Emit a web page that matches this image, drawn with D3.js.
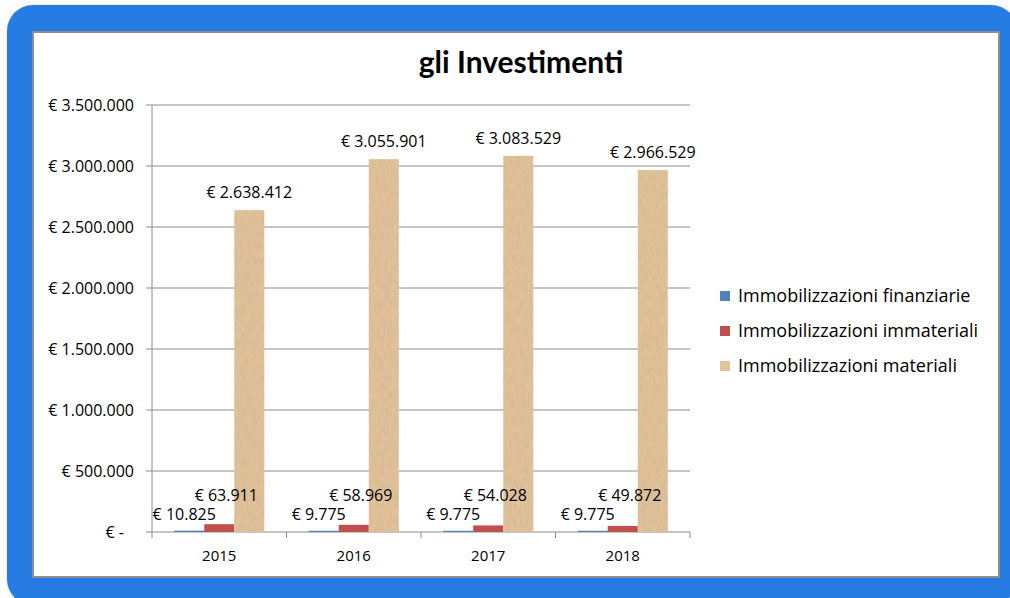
<!DOCTYPE html>
<html>
<head>
<meta charset="utf-8">
<script src="https://cdn.jsdelivr.net/npm/d3@7"></script>
<style>
  body { margin: 0; background: #fff; }
  svg text { font-family: "Open Sans", sans-serif; fill: #000; }
</style>
</head>
<body>
<div id="chart"></div>
<script>
// Chart data
const years = ["2015", "2016", "2017", "2018"];
const seriesNames = ["Immobilizzazioni finanziarie", "Immobilizzazioni immateriali", "Immobilizzazioni materiali"];
const finanziarie = [10825, 9775, 9775, 9775];
const immateriali = [63911, 58969, 54028, 49872];
const materiali = [2638412, 3055901, 3083529, 2966529];
const yTicks = [0, 500000, 1000000, 1500000, 2000000, 2500000, 3000000, 3500000];
const colors = ["#4F81BD", "#C0504D", "#E3C399"];

const width = 1010;
const height = 598;

const svg = d3.select("#chart")
    .append("svg")
    .attr("width", width)
    .attr("height", height);

// texture for the tan bars
const defs = svg.append("defs");
const paper = defs.append("filter").attr("id", "paper")
    .attr("x", 0).attr("y", 0).attr("width", 1).attr("height", 1);
paper.append("feTurbulence")
    .attr("type", "fractalNoise")
    .attr("baseFrequency", "0.5 0.12")
    .attr("numOctaves", 3)
    .attr("seed", 4)
    .attr("result", "noise");
paper.append("feColorMatrix")
    .attr("in", "noise")
    .attr("type", "matrix")
    .attr("values", "0 0 0 0 0.55  0 0 0 0 0.42  0 0 0 0 0.28  0 0 0 0.7 -0.15")
    .attr("result", "tint");
paper.append("feComposite")
    .attr("in", "tint")
    .attr("in2", "SourceGraphic")
    .attr("operator", "atop");

const shadow = defs.append("filter").attr("id", "shadow");
shadow.append("feDropShadow")
    .attr("dx", 1).attr("dy", 1).attr("stdDeviation", 1.5)
    .attr("flood-color", "#000").attr("flood-opacity", 0.35);

// blue frame
svg.append("rect")
    .attr("x", 7).attr("y", 5)
    .attr("width", 1010).attr("height", 600)
    .attr("rx", 26)
    .attr("fill", "#287CE2")
    .attr("filter", "url(#shadow)");

// white panel
svg.append("rect")
    .attr("x", 33).attr("y", 32)
    .attr("width", 966).attr("height", 545)
    .attr("fill", "#fff")
    .attr("stroke", "#8E8E8E")
    .attr("stroke-width", 2);

// title
svg.append("text")
    .attr("x", 521).attr("y", 73)
    .attr("text-anchor", "middle")
    .style("font-family", "Lato, sans-serif")
    .style("font-size", "30px")
    .style("font-weight", "bold")
    .text("gli Investimenti");

const plotLeft = 152, plotRight = 690, plotTop = 105, plotBottom = 532;

const y = d3.scaleLinear().domain([0, 3500000]).range([plotBottom, plotTop]);
const x0 = d3.scaleBand().domain(years).range([plotLeft, plotRight])
    .paddingInner(0.33).paddingOuter(0.165);
const x1 = d3.scaleBand().domain(d3.range(3)).range([0, x0.bandwidth()]);

const fmt = d3.formatLocale({ decimal: ",", thousands: ".", grouping: [3], currency: ["€ ", ""] });
const euro = v => v === 0 ? "€ -" : "€ " + fmt.format(",")(v);

// gridlines and y labels
const yAxis = svg.append("g");
yAxis.selectAll("line.grid")
    .data(yTicks)
    .enter().append("line")
    .attr("x1", plotLeft - 6).attr("x2", plotRight)
    .attr("y1", d => y(d)).attr("y2", d => y(d))
    .attr("stroke", "#8C8C8C")
    .attr("stroke-width", 1);
yAxis.selectAll("text")
    .data(yTicks)
    .enter().append("text")
    .attr("x", d => d === 0 ? 124 : 134)
    .attr("y", d => y(d) + 6)
    .attr("text-anchor", "end")
    .style("font-size", "16px")
    .text(euro);

svg.append("line")
    .attr("x1", plotLeft).attr("x2", plotLeft)
    .attr("y1", plotTop).attr("y2", plotBottom)
    .attr("stroke", "#8C8C8C");

// category ticks
const bounds = years.map(d => x0(d) - x0.step() * 0.165).concat([plotRight]);
svg.selectAll("line.cat")
    .data(bounds)
    .enter().append("line")
    .attr("x1", d => d).attr("x2", d => d)
    .attr("y1", plotBottom).attr("y2", plotBottom + 6)
    .attr("stroke", "#8C8C8C");

svg.selectAll("text.year")
    .data(years)
    .enter().append("text")
    .attr("x", d => x0(d) + x0.bandwidth() / 2)
    .attr("y", 561)
    .attr("text-anchor", "middle")
    .style("font-size", "15px")
    .text(d => d);

// bars
const series = [finanziarie, immateriali, materiali];
series.forEach((vals, s) => {
    const g = svg.append("g");
    g.selectAll("rect")
        .data(vals)
        .enter().append("rect")
        .attr("x", (d, i) => x0(years[i]) + x1(s))
        .attr("y", d => y(d))
        .attr("width", x1.bandwidth())
        .attr("height", d => plotBottom - y(d))
        .attr("fill", colors[s])
        .attr("filter", s === 2 ? "url(#paper)" : null);
});

// data labels
const labelY = [520, 501, null];
const labelDx = [-5, 7, 0];
series.forEach((vals, s) => {
    svg.append("g").selectAll("text")
        .data(vals)
        .enter().append("text")
        .attr("x", (d, i) => x0(years[i]) + x1(s) + x1.bandwidth() / 2 + labelDx[s])
        .attr("y", d => labelY[s] === null ? y(d) - 12 : labelY[s])
        .attr("text-anchor", "middle")
        .style("font-size", "16px")
        .text(euro);
});

// legend
const legend = svg.append("g").attr("transform", "translate(720,296)");
seriesNames.forEach((name, i) => {
    const row = legend.append("g").attr("transform", `translate(0,${i * 35})`);
    row.append("rect")
        .attr("x", 0).attr("y", -5)
        .attr("width", 10).attr("height", 10)
        .attr("fill", colors[i]);
    row.append("text")
        .attr("x", 18).attr("y", 6)
        .style("font-size", "18px")
        .text(name);
});
</script>
</body>
</html>
